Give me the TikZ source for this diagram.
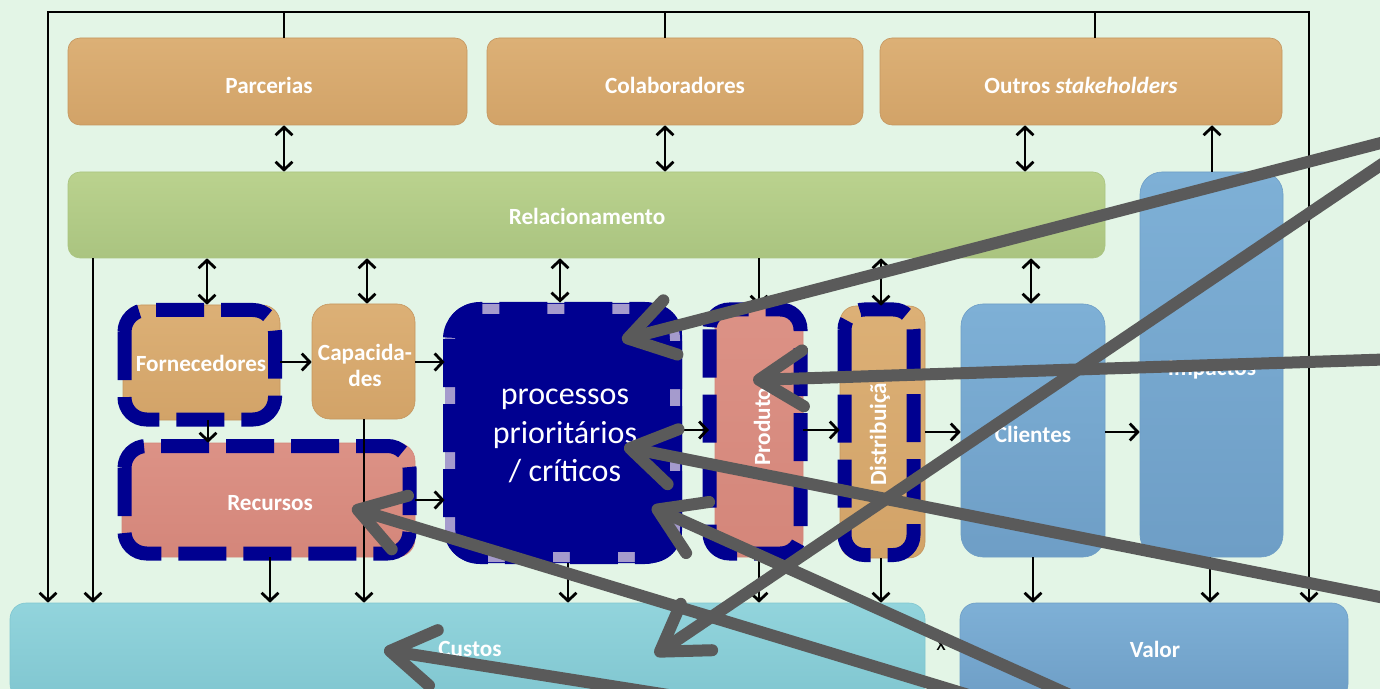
\documentclass[tikz,border=0pt]{standalone}
\usepackage{fontspec}
\setmainfont{Carlito}
\usetikzlibrary{arrows.meta,fit}

\definecolor{bg}{RGB}{227,245,230}
\definecolor{tan}{RGB}{210,163,104}
\definecolor{tanL}{RGB}{220,176,118}
\definecolor{tanD}{RGB}{196,150,95}
\definecolor{leaf}{RGB}{170,196,128}
\definecolor{leafL}{RGB}{186,210,142}
\definecolor{sky}{RGB}{110,158,198}
\definecolor{skyL}{RGB}{126,176,214}
\definecolor{tealC}{RGB}{128,198,208}
\definecolor{tealL}{RGB}{146,212,220}
\definecolor{salmon}{RGB}{212,134,122}
\definecolor{salmonL}{RGB}{220,146,134}
\definecolor{navy}{RGB}{0,0,144}
\definecolor{lav}{RGB}{165,155,205}
\definecolor{callout}{RGB}{90,90,90}

\tikzset{
  lab/.style={font=\fontsize{11.6}{13}\selectfont\bfseries, text=white, align=center},
  panel/.style={inner sep=0pt},
  tanfill/.style={panel, top color=tanL, bottom color=tan, draw=tanD, line width=0.3pt},
  leaffill/.style={panel, top color=leafL, bottom color=leaf, draw=leaf, line width=0.3pt},
  skyfill/.style={panel, top color=skyL, bottom color=sky, draw=sky, line width=0.3pt},
  tealfill/.style={panel, top color=tealL, bottom color=tealC, draw=tealC, line width=0.3pt},
  salmonfill/.style={panel, top color=salmonL, bottom color=salmon, draw=salmon, line width=0.3pt},
  navydash/.style={draw=navy, line width=7pt, dash pattern=on 24pt off 8.5pt},
  tipB/.tip={Straight Barb[length=4pt,width=8.5pt]},
  wire/.style={line width=1.4pt},
  arr/.style={wire, -tipB},
  darr/.style={wire, tipB-tipB},
  callout/.style={draw=callout, line width=6pt, line cap=round,
    -{Straight Barb[length=22pt,width=28pt,round]}},
}

\begin{document}
\begin{tikzpicture}[x=0.5pt,y=-0.5pt]
\clip (0,0) rectangle (1380,689);
\fill[bg] (0,0) rectangle (1380,689);

% column positions of the vertical connectors
\foreach \c in {48,93,207,208,270,284,364,367,560,568,665,759,881,1025,1031,1033,1095,1210,1212,1309}
  \coordinate (x\c) at (\c,0);
\coordinate (ftl) at (48,12);
\coordinate (ftr) at (1309,12);

% ---------- boxes ----------
\node[tanfill, rounded corners=6pt, fit={(68,38) (467,125)}] (parc) {};
\node[tanfill, rounded corners=6pt, fit={(487,38) (863,125)}] (colab) {};
\node[tanfill, rounded corners=6pt, fit={(880,38) (1282,125)}] (outros) {};
\node[leaffill, rounded corners=6pt, fit={(68,172) (1105,258)}] (rel) {};
\node[skyfill, rounded corners=11pt, fit={(1140,172) (1283,557)}] (imp) {};
\node[skyfill, rounded corners=11pt, fit={(961,304) (1105,557)}] (cli) {};

\node[tanfill, rounded corners=9pt, fit={(123,305) (280,420)}] (forn) {};
\node[tanfill, rounded corners=9pt, fit={(312,304) (415,419)}] (cap) {};
\node[salmonfill, rounded corners=9pt, fit={(122,443) (415,557)}] (rec) {};
\node[fill=navy, inner sep=0pt, rounded corners=16pt, fit={(445,303) (682,563)}] (proc) {};
\node[salmonfill, rounded corners=8pt, fit={(715,306) (803,557)}] (prod) {};
\node[tanfill, rounded corners=8pt, fit={(840,306) (925,558)}] (dist) {};

\node[tealfill, rounded corners=8pt, fit={(10,603) (925,700)}] (custos) {};
\node[skyfill, rounded corners=8pt, fit={(960,603) (1348,700)}] (valor) {};

% labels of the boxes
\node[lab] (parclab) at (269,85) {Parcerias};
\node[lab] (colablab) at (675,85) {Colaboradores};
\node[lab] (outroslab) at (1081,85) {Outros \textit{stakeholders}};
\node[lab] (rellab) at (587,216) {Relacionamento};
\node[lab] (implab) at (1212,370) {Impactos};
\node[lab] (clilab) at (1033,434) {Clientes};
\node[lab] (fornlab) at (201,363) {Fornecedores};
\node[lab] (caplab) at (365,365) {Capacida-\\des};
\node[lab] (reclab) at (270,503) {Recursos};
\node[lab] (custoslab) at (470,649) {Custos};
\node[lab] (valorlab) at (1155,649) {Valor};

% dashed outlines of the critical elements
\draw[draw=lav, line width=5pt, rounded corners=15pt] (450,309) rectangle (675,557);
\draw[navydash, rounded corners=15pt] (450,309) rectangle (675,557);
\draw[navydash, rounded corners=11pt] (124.5,310) rectangle (275,419.5);
\draw[navydash, rounded corners=11pt] (124.5,446) rectangle (409.5,553.5);
\draw[navydash, rounded corners=10pt] (709.5,309.5) rectangle (800.5,553.5);
\draw[navydash, rounded corners=10pt] (844.5,309.5) rectangle (913.5,555);

% texts inside the critical elements
\node[text=white, align=center, font=\fontsize{16}{19.3}\selectfont] (proclab) at (565,436)
  {processos\\prioritários\\/ críticos};
\node[lab, rotate=90] (prodlab) at (762,422) {Produtos};
\node[lab, rotate=90] (distlab) at (880,428) {Distribuição};

% ---------- frame round the model ----------
\draw[darr] (ftl |- custos.north) -- (ftl) -- (ftr) -- (ftr |- valor.north);
\draw[wire] (x284 |- ftl) -- (x284 |- parc.north);
\draw[wire] (x665 |- ftl) -- (x665 |- colab.north);
\draw[wire] (x1095 |- ftl) -- (x1095 |- outros.north);

% ---------- stakeholders and relationship ----------
\draw[darr] (x284 |- parc.south) -- (x284 |- rel.north);
\draw[darr] (x665 |- colab.south) -- (x665 |- rel.north);
\draw[darr] (x1025 |- outros.south) -- (x1025 |- rel.north);
\draw[arr] (x1212 |- imp.north) -- (x1212 |- outros.south);

\draw[arr] (x93 |- rel.south) -- (x93 |- custos.north);
\draw[darr] (x207 |- rel.south) -- (x207 |- forn.north);
\draw[darr] (x367 |- rel.south) -- (x367 |- cap.north);
\draw[darr] (x560 |- rel.south) -- (x560 |- proc.north);
\draw[arr] (x759 |- rel.south) -- (x759 |- prod.north);
\draw[darr] (x881 |- rel.south) -- (x881 |- dist.north);
\draw[darr] (x1031 |- rel.south) -- (x1031 |- cli.north);

% ---------- value chain ----------
\draw[arr] (forn.east |- 0,362) -- (cap.west |- 0,362);
\draw[arr] (cap.east |- 0,362) -- (proc.west |- 0,362);
\draw[arr] (x208 |- forn.south) -- (x208 |- rec.north);
\draw[arr] (rec.east |- 0,500) -- (proc.west |- 0,500);
\draw[arr] (proc.east |- 0,430) -- (709,430);
\draw[arr] (prod.east |- 0,430) -- (dist.west |- 0,430);
\draw[arr] (dist.east |- 0,432) -- (cli.west |- 0,432);
\draw[arr] (cli.east |- 0,432) -- (imp.west |- 0,432);

\draw[arr] (x364 |- cap.south) -- (x364 |- custos.north);
\draw[arr] (x270 |- rec.south) -- (x270 |- custos.north);
\draw[arr] (x568 |- proc.south) -- (x568 |- custos.north);
\draw[arr] (x759 |- prod.south) -- (x759 |- custos.north);
\draw[arr] (x881 |- dist.south) -- (x881 |- custos.north);
\draw[arr] (x1033 |- cli.south) -- (x1033 |- valor.north);
\draw[arr] (x1210 |- imp.south) -- (x1210 |- valor.north);

\node[font=\fontsize{11}{11}\selectfont] (xmark) at (941,645) {x};

% ---------- grey pointers ----------
\coordinate (t1) at (1400,138);  \coordinate (p1) at (622,340);
\coordinate (t2) at (1400,152);  \coordinate (p2) at (655,655);
\coordinate (t3) at (1400,359);  \coordinate (p3) at (753,380);
\coordinate (t4) at (1400,601);  \coordinate (p4) at (624,447);
\coordinate (t5) at (1081,700);  \coordinate (p5) at (652,507);
\coordinate (t6) at (985,700);   \coordinate (p6) at (352,508);
\coordinate (t7) at (700,700);   \coordinate (p7) at (384,650);
\foreach \i in {1,...,7}
  \draw[callout] (t\i) -- (p\i);
\end{tikzpicture}
\end{document}
